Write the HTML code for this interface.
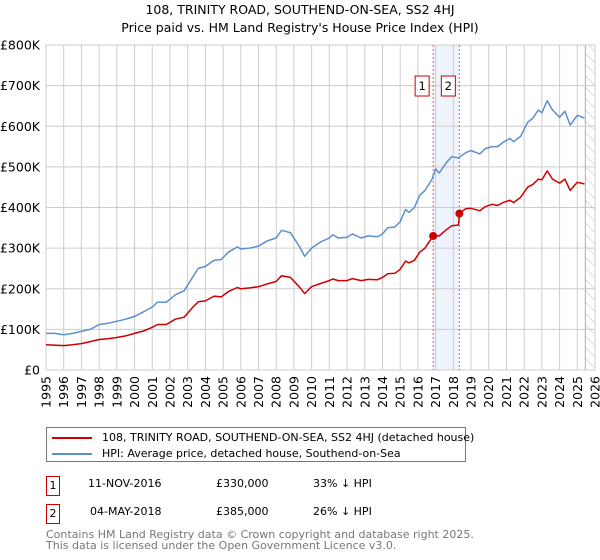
<!DOCTYPE html>
<html><head><meta charset="utf-8"><style>
body{margin:0;background:#fff;font-family:"DejaVu Sans","Liberation Sans",sans-serif;}
svg{display:block}
</style></head><body>
<svg id="c" width="600" height="560" font-family="DejaVu Sans, Liberation Sans, sans-serif">
<text x="300" y="14" text-anchor="middle" font-size="12.5">108, TRINITY ROAD, SOUTHEND-ON-SEA, SS2 4HJ</text>
<text x="300" y="32" text-anchor="middle" font-size="12.5">Price paid vs. HM Land Registry's House Price Index (HPI)</text>
</svg>
<script>
const yTicks=[0,100,200,300,400,500,600,700,800];
const yTickLabels=["£0","£100K","£200K","£300K","£400K","£500K","£600K","£700K","£800K"];
const years=[1995,1996,1997,1998,1999,2000,2001,2002,2003,2004,2005,2006,2007,2008,2009,2010,2011,2012,2013,2014,2015,2016,2017,2018,2019,2020,2021,2022,2023,2024,2025,2026];
const hpiT=[1995,1995.5,1996,1996.5,1997,1997.5,1998,1998.5,1999,1999.5,2000,2000.5,2001,2001.3,2001.8,2002.3,2002.8,2003.3,2003.6,2004,2004.5,2004.9,2005.3,2005.8,2006,2006.5,2007,2007.5,2008,2008.3,2008.8,2009.3,2009.6,2010,2010.5,2011,2011.2,2011.5,2012,2012.3,2012.8,2013.2,2013.7,2014,2014.3,2014.7,2015,2015.3,2015.5,2015.8,2016.1,2016.4,2016.8,2017,2017.2,2017.6,2017.9,2018.3,2018.7,2019,2019.5,2019.8,2020.2,2020.5,2020.8,2021.2,2021.4,2021.8,2022.2,2022.5,2022.8,2023,2023.3,2023.6,2024,2024.3,2024.6,2025,2025.4];
const hpiV=[90,90,87,90,95,100,112,115,120,125,132,143,155,167,167,185,195,230,250,255,270,272,290,303,298,300,305,318,325,344,338,305,280,300,315,325,333,325,327,335,325,330,328,335,350,352,365,395,388,400,430,442,470,495,485,510,525,522,535,540,532,545,550,550,560,570,562,575,610,620,640,633,663,640,622,637,603,627,620];
const ppT=[1995,1996,1996.5,1997,1997.5,1998,1998.5,1999,1999.5,2000,2000.5,2001,2001.3,2001.8,2002.3,2002.8,2003.3,2003.6,2004,2004.5,2004.9,2005.3,2005.8,2006,2006.5,2007,2007.5,2008,2008.3,2008.8,2009.3,2009.6,2010,2010.5,2011,2011.2,2011.5,2012,2012.3,2012.8,2013.2,2013.7,2014,2014.3,2014.7,2015,2015.3,2015.5,2015.8,2016.1,2016.4,2016.86,2017.2,2017.6,2017.9,2018.3,2018.34,2018.7,2019,2019.5,2019.8,2020.2,2020.5,2020.8,2021.2,2021.4,2021.8,2022.2,2022.5,2022.8,2023,2023.3,2023.6,2024,2024.3,2024.6,2025,2025.4];
const ppV=[62,60,62,65,70,75,77,80,84,90,96,105,112,112,125,130,155,168,170,182,180,193,203,200,202,205,212,218,232,228,205,188,205,213,220,224,220,220,225,220,223,222,228,237,238,248,268,264,270,290,300,330,330,345,355,357,385,397,398,392,402,408,405,412,418,412,425,450,457,470,468,490,470,460,470,442,462,458];
const saleT=[2016.86,2018.34];
const saleV=[330,385];
const saleLabels=["1","2"];
const dataEnd=2025.45;

const svg=document.getElementById('c');
const NS='http://www.w3.org/2000/svg';
const X0=46,X1=595,Y0=370,Y1=45;
const xs=t=>X0+(t-1995)/(2026-1995)*(X1-X0);
const ys=v=>Y0-v/800*(Y0-Y1);
function mk(tag,at,parent){const e=document.createElementNS(NS,tag);for(const k in at)e.setAttribute(k,at[k]);(parent||svg).appendChild(e);return e;}

let sh=mk('rect',{x:xs(saleT[0]),y:Y1,width:xs(saleT[1])-xs(saleT[0]),height:Y0-Y1,fill:'#eef3fc'});


const defs=mk('defs',{});
const pat=mk('pattern',{id:'h',width:8,height:8,patternUnits:'userSpaceOnUse',patternTransform:'rotate(-45)'},defs);
mk('line',{x1:0,y1:0,x2:0,y2:8,stroke:'#bbb','stroke-width':1},pat);
let ht=mk('rect',{x:xs(dataEnd),y:Y1,width:X1-xs(dataEnd),height:Y0-Y1,fill:'url(#h)',stroke:'#999','stroke-width':0.8});



years.forEach(y=>{
  let g=mk('line',{x1:xs(y),x2:xs(y),y1:Y1,y2:Y0,stroke:'#ccc','stroke-width':1});
  
  
  let t=mk('text',{x:0,y:0,'font-size':12.5,'text-anchor':'end',transform:`translate(${xs(y)+4.5},${Y0+6}) rotate(-90)`});
  t.textContent=y;
  
  
});
yTicks.forEach((v,i)=>{
  let g=mk('line',{x1:X0,x2:X1,y1:ys(v),y2:ys(v),stroke:'#ccc','stroke-width':1});
  
  
  let t=mk('text',{x:X0-6,y:ys(v)+4.5,'font-size':12.5,'text-anchor':'end'});
  t.textContent=yTickLabels[i];
  
  
});
saleT.forEach((t,i)=>{
  let l=mk('line',{x1:xs(t),x2:xs(t),y1:Y1,y2:Y0,stroke:'#e06060','stroke-width':1,'stroke-dasharray':'2,2'});
  
  
  let b=mk('rect',{x:xs(t)-18,y:76,width:14,height:20,fill:'#fff',stroke:'#c00','stroke-width':1});
  
  
  let tx=mk('text',{x:xs(t)-11,y:90,'font-size':11.5,'text-anchor':'middle'});
  tx.textContent=saleLabels[i];
  
  
});
function path(T,V,col,name){
  let d=T.map((t,i)=>(i?'L':'M')+xs(t).toFixed(1)+','+ys(V[i]).toFixed(1)).join('');
  let p=mk('path',{d:d,fill:'none',stroke:col,'stroke-width':1.5,'stroke-linejoin':'round'});
  
  
}
path(hpiT,hpiV,'#5b8fd0','hpi-line');
path(ppT,ppV,'#cc0000','price-paid-line');
saleT.forEach((t,i)=>{
  let c=mk('circle',{cx:xs(t),cy:ys(saleV[i]),r:4,fill:'#cc0000'});
  
  
});
</script>
<div style="position:absolute;left:46px;top:427px;width:420px;height:35px;border:1px solid #777;box-sizing:border-box;font-size:11px;">
 <div style="position:absolute;left:5px;top:3px;white-space:nowrap"><span style="display:inline-block;width:40px;height:2px;background:#cc0000;vertical-align:middle;margin-right:10px"></span>108, TRINITY ROAD, SOUTHEND-ON-SEA, SS2 4HJ (detached house)</div>
 <div style="position:absolute;left:5px;top:19px;white-space:nowrap"><span style="display:inline-block;width:40px;height:2px;background:#5b8fd0;vertical-align:middle;margin-right:10px"></span>HPI: Average price, detached house, Southend-on-Sea</div>
</div>
<div style="position:absolute;left:0;top:0;font-size:11px">
 <div style="position:absolute;left:46px;top:476px;width:12px;height:18px;border:1px solid #c00;text-align:center;line-height:18px">1</div>
 <div style="position:absolute;left:88px;top:477px;white-space:nowrap">11-NOV-2016</div>
 <div style="position:absolute;left:216px;top:477px">£330,000</div>
 <div style="position:absolute;left:313px;top:477px;white-space:nowrap">33% ↓ HPI</div>
 <div style="position:absolute;left:46px;top:504px;width:12px;height:18px;border:1px solid #c00;text-align:center;line-height:18px">2</div>
 <div style="position:absolute;left:90px;top:505px;white-space:nowrap">04-MAY-2018</div>
 <div style="position:absolute;left:216px;top:505px">£385,000</div>
 <div style="position:absolute;left:313px;top:505px;white-space:nowrap">26% ↓ HPI</div>
 <div style="position:absolute;left:46px;top:530px;color:#777;line-height:10.5px;white-space:nowrap;font-size:11px">Contains HM Land Registry data © Crown copyright and database right 2025.<br>This data is licensed under the Open Government Licence v3.0.</div>
</div>
</body></html>
